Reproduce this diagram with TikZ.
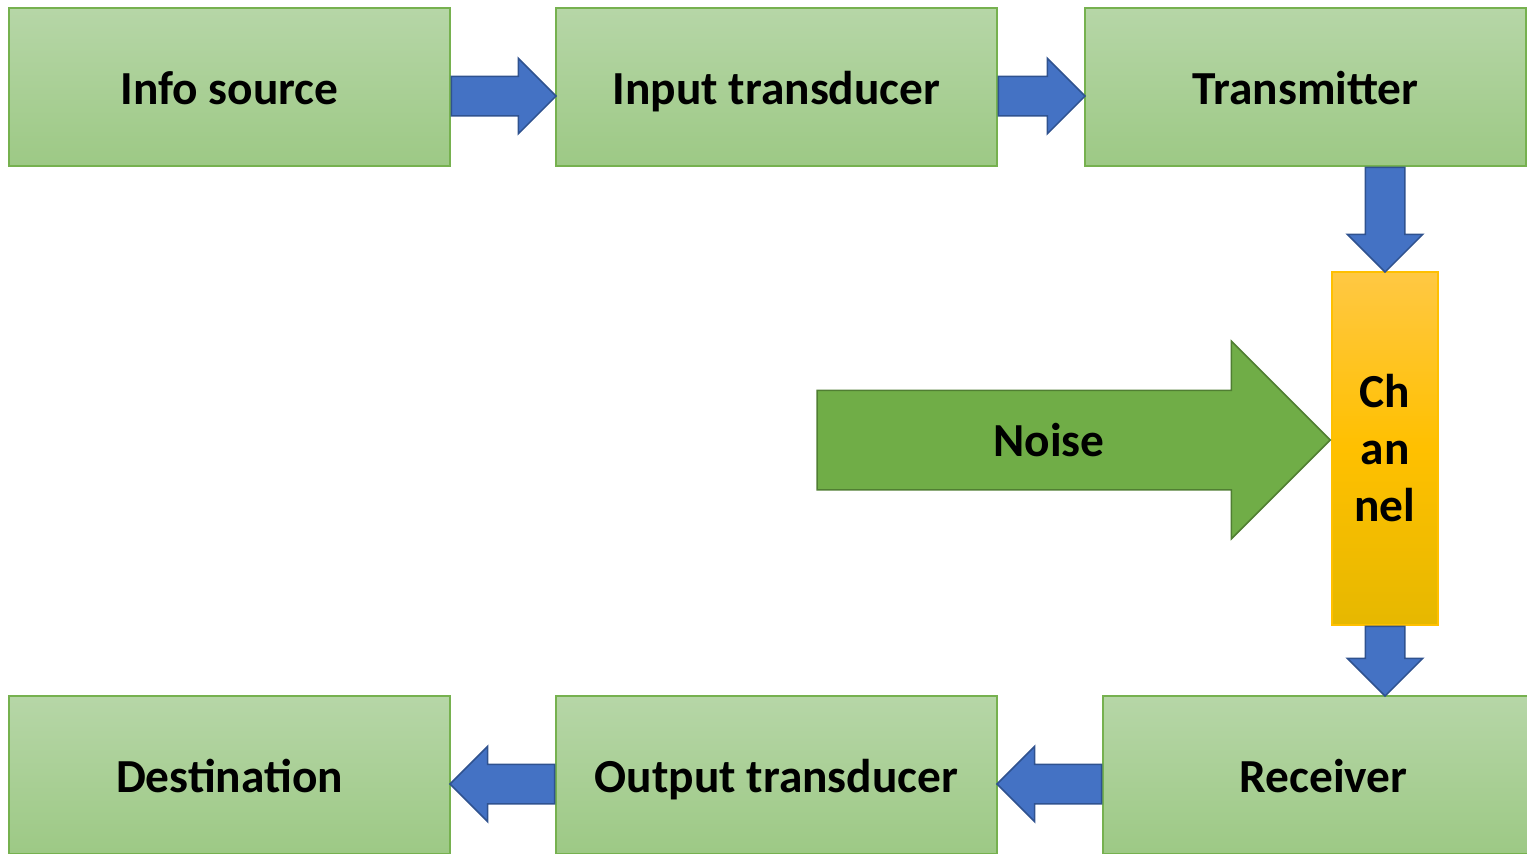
\documentclass[tikz,border=0pt]{standalone}
\usepackage{fontspec}
\setmainfont{Carlito}
\usetikzlibrary{shapes.arrows,calc}
\definecolor{boxtop}{HTML}{B6D6A7}
\definecolor{boxbot}{HTML}{9DC985}
\definecolor{boxline}{HTML}{76B14F}
\definecolor{arrowblue}{HTML}{4472C4}
\definecolor{arrowline}{HTML}{2F528F}
\definecolor{noisefill}{HTML}{70AD47}
\definecolor{noiseline}{HTML}{507E32}
\definecolor{chantop}{HTML}{FFC843}
\definecolor{chanmid}{HTML}{FFC000}
\definecolor{chanbot}{HTML}{E6B800}
\tikzset{
  label font/.style={font=\bfseries\fontsize{23.7pt}{28.5pt}\selectfont},
  box/.style={draw=boxline, line width=0.7pt, top color=boxtop, bottom color=boxbot,
    minimum width=220.5pt, minimum height=79pt, inner sep=0pt,
    text height=17pt, text depth=0pt, label font},
  blockarrow/.style={single arrow, draw=arrowline, fill=arrowblue, line width=0.75pt,
    inner sep=0pt, inner ysep=9.5pt, single arrow head extend=9pt,
    single arrow head indent=0pt},
}
% block arrow from one point to another
\newcommand{\fatarrow}[2]{%
  \path let \p1=(#1), \p2=(#2),
    \n1={veclen(\x2-\x1,\y2-\y1)}, \n2={atan2(\y2-\y1,\x2-\x1)}
  in (\p1) node[blockarrow, minimum height=\n1, rotate=\n2, anchor=tail] {};}
\begin{document}
\begin{tikzpicture}[x=0.5pt,y=-0.5pt]
  \useasboundingbox (0,0) rectangle (1527,853);
  \node[box] (info) at (229.5,87) {Info source};
  \node[box] (input) at (776.5,87) {Input transducer};
  \node[box] (trans) at (1305.5,87) {Transmitter};
  \node[draw=chanmid, line width=0.7pt, top color=chantop, bottom color=chanbot,
    middle color=chanmid, minimum width=53pt, minimum height=176.5pt, inner sep=0pt,
    align=center, label font] (chan) at (1385,448.5) {Ch\\an\\nel};
  \node[single arrow, draw=noiseline, fill=noisefill, line width=0.75pt, inner sep=0pt,
    inner ysep=16.5pt, text height=16pt, text depth=0pt, minimum height=256.5pt,
    single arrow head extend=24.5pt, single arrow head indent=0pt, anchor=tip,
    label font] (noise) at ($(chan.west)+(0,-8.5)$) {Noise};
  \node[box] (dest) at (229.5,775) {Destination};
  \node[box] (output) at (776.5,775) {Output transducer};
  \node[box] (recv) at (1323.5,775) {Receiver};
  \fatarrow{$(info.east)+(0,9)$}{$(input.west)+(0,9)$}
  \fatarrow{$(input.east)+(0,9)$}{$(trans.west)+(0,9)$}
  \fatarrow{trans.south -| chan}{chan.north}
  \fatarrow{chan.south}{recv.north -| chan}
  \fatarrow{$(recv.west)+(0,9)$}{$(output.east)+(0,9)$}
  \fatarrow{$(output.west)+(0,9)$}{$(dest.east)+(0,9)$}
\end{tikzpicture}
\end{document}
